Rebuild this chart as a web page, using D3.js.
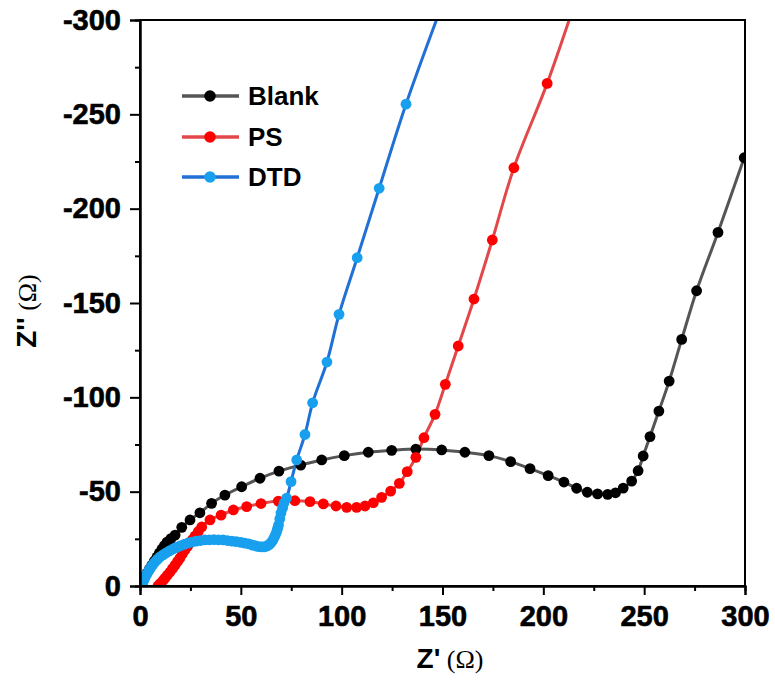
<!DOCTYPE html>
<html><head><meta charset="utf-8">
<script src="https://cdn.jsdelivr.net/npm/d3@7"></script>
<style>body{margin:0;background:#fff}svg{display:block}</style>
</head><body>
<script>
const seriesNames = ["Blank", "PS", "DTD"];
const lineColors = ["#555555", "#e2474a", "#2170d6"];
const markerColors = ["#000000", "#ff0000", "#18a0ee"];

const blankX = [0.5,1.0,1.5,2.5,3.5,4.7,5.9,7.1,8.4,9.6,10.9,12.1,13.4,15.3,17.4,20.7,24.8,29.7,35.5,42.1,50.4,59.5,68.9,79.7,90.1,101.3,113.2,124.8,136.8,149.6,161.1,173.0,183.8,193.4,202.4,210.2,216.5,221.8,226.9,231.9,235.8,239.6,243.8,247.0,249.5,252.9,257.3,262.4,268.6,276.0,286.6,299.6];
const blankY = [0,-1.6,-3.2,-5.0,-6.9,-9.0,-11.1,-13.2,-15.4,-17.5,-19.6,-21.4,-23.3,-25.1,-27.0,-31.1,-35.0,-38.8,-43.8,-48.2,-52.6,-57.1,-60.9,-64.1,-66.8,-69.1,-70.9,-71.9,-72.6,-72.1,-70.9,-69.1,-65.9,-62.2,-58.5,-55.1,-51.8,-49.7,-48.8,-48.6,-49.4,-51.9,-55.6,-61.1,-68.9,-79.2,-92.7,-108.6,-130.7,-156.5,-187.4,-227.0];

const psX = [8.9,9.6,10.4,11.4,12.4,13.6,14.9,16.1,17.4,18.6,19.8,21.0,22.3,23.5,24.8,26.0,27.3,28.9,30.6,34.7,40.2,46.3,52.9,60.0,68.6,76.8,84.3,90.9,97.2,102.5,107.4,111.6,115.7,119.8,124.3,128.6,132.5,136.8,140.8,146.3,151.4,157.8,165.6,174.7,185.4,201.9,219.0];
const psY = [0,-0.8,-1.6,-2.9,-4.2,-5.8,-7.4,-9.2,-11.1,-13.0,-14.8,-17.0,-19.1,-21.0,-22.8,-24.6,-26.5,-28.9,-31.3,-35.0,-37.6,-40.3,-42.1,-43.7,-45.0,-45.2,-44.7,-43.5,-42.4,-41.7,-41.7,-42.4,-44.1,-47.0,-50.3,-54.4,-60.6,-68.2,-78.6,-91.0,-106.9,-127.2,-152.1,-183.4,-221.7,-266.4,-320];

const dtdX = [0.7,1.1,1.5,2.0,2.5,3.2,4.0,4.7,5.5,6.4,7.4,8.6,9.9,11.4,12.9,14.6,16.4,18.1,19.8,21.8,23.8,25.8,27.8,30.0,32.2,34.4,36.7,38.9,41.2,43.4,45.6,47.8,50.1,52.0,54.0,55.8,57.5,59.0,60.5,61.8,63.0,64.0,64.9,65.7,66.4,67.1,67.7,68.2,68.7,69.3,69.9,70.7,71.4,72.7,74.9,77.7,81.8,85.6,92.7,98.7,107.7,118.6,131.9,154.0];
const dtdY = [0,-1.0,-2.1,-3.4,-4.8,-6.1,-7.4,-8.8,-10.1,-11.4,-12.7,-14.1,-15.4,-16.5,-17.5,-18.6,-19.6,-20.4,-21.2,-22.0,-22.8,-23.3,-23.8,-24.1,-24.4,-24.5,-24.6,-24.5,-24.4,-24.1,-23.8,-23.5,-23.1,-22.7,-22.3,-21.7,-21.2,-20.9,-20.7,-20.8,-21.2,-21.9,-22.8,-24.0,-25.4,-27.0,-28.6,-30.4,-32.3,-35.5,-38.7,-41.4,-44.0,-46.6,-55.3,-66.8,-80.3,-97.1,-118.7,-144.0,-174.0,-210.8,-255.4,-320];

const xTicks = [0,50,100,150,200,250,300];
const yTicks = [0,-50,-100,-150,-200,-250,-300];
const xMinor = [25,75,125,175,225,275];
const yMinor = [-25,-75,-125,-175,-225,-275];

const W = 775, H = 684;
const L = 140, R = 745, T = 20, B = 586;
const svg = d3.select("body").append("svg").attr("width", W).attr("height", H);
const x = d3.scaleLinear().domain([0, 300]).range([L, R]);
const y = d3.scaleLinear().domain([0, -300]).range([B, T]);

svg.append("clipPath").attr("id","clip").append("rect")
  .attr("x", L).attr("y", T).attr("width", R-L).attr("height", B-T);

const series = [
  {name: seriesNames[0], xs: blankX, ys: blankY},
  {name: seriesNames[1], xs: psX, ys: psY},
  {name: seriesNames[2], xs: dtdX, ys: dtdY}
];
const line = d3.line().x(d => x(d[0])).y(d => y(d[1])).curve(d3.curveCatmullRom.alpha(0.5));
const g = svg.append("g").attr("clip-path", "url(#clip)");
series.forEach((s, i) => {
  const pts = s.xs.map((v, j) => [v, s.ys[j]]);
  g.append("path").datum(pts).attr("d", line).attr("fill","none")
    .attr("stroke", lineColors[i]).attr("stroke-width", 3);
});
series.forEach((s, i) => {
  const pts = s.xs.map((v, j) => [v, s.ys[j]]);
  g.selectAll(null).data(pts).enter().append("circle")
    .attr("cx", d => x(d[0])).attr("cy", d => y(d[1])).attr("r", 5.4)
    .attr("fill", markerColors[i]);
});

// frame
svg.append("rect").attr("x", L).attr("y", T).attr("width", R-L).attr("height", B-T)
  .attr("fill","none").attr("stroke","#000").attr("stroke-width", 2);

// axes
const font = "'Liberation Sans', Arial, sans-serif";
const xAx = svg.append("g").attr("transform", `translate(0,${B})`)
  .call(d3.axisBottom(x).tickValues(xTicks).tickSize(9).tickPadding(10).tickFormat(d => String(d)));
const xAxMinor = svg.append("g").attr("transform", `translate(0,${B})`)
  .call(d3.axisBottom(x).tickValues(xMinor).tickSize(5).tickFormat(""));
const yAx = svg.append("g").attr("transform", `translate(${L},0)`)
  .call(d3.axisLeft(y).tickValues(yTicks).tickSize(10).tickPadding(9).tickFormat(d => String(d)));
const yAxMinor = svg.append("g").attr("transform", `translate(${L},0)`)
  .call(d3.axisLeft(y).tickValues(yMinor).tickSize(5).tickFormat(""));
[xAx, xAxMinor, yAx, yAxMinor].forEach(a => {
  a.select(".domain").attr("stroke","#000").attr("stroke-width", 2);
  a.selectAll(".tick line").attr("stroke","#000").attr("stroke-width", 2);
  a.selectAll("text").attr("font-family", font).attr("font-weight","bold")
    .attr("font-size", 29).attr("fill","#000")
    .attr("stroke","#000").attr("stroke-width", 0.6);
});

// axis titles
const xt = svg.append("text").attr("x", 450).attr("y", 668).attr("text-anchor","middle")
  .attr("fill","#000");
xt.append("tspan").attr("font-family", font).attr("font-weight","bold").attr("font-size", 28).text("Z'");
xt.append("tspan").attr("font-family","'Liberation Serif', 'Times New Roman', serif").attr("font-size", 26).text(" (Ω)");
const yt = svg.append("text").attr("transform","translate(36,311) rotate(-90)").attr("text-anchor","middle")
  .attr("fill","#000");
yt.append("tspan").attr("font-family", font).attr("font-weight","bold").attr("font-size", 28).text("Z''");
yt.append("tspan").attr("font-family","'Liberation Serif', 'Times New Roman', serif").attr("font-size", 26).text(" (Ω)");

// legend
const legY = [96, 137, 177];
const leg = svg.append("g");
seriesNames.forEach((n, i) => {
  leg.append("line").attr("x1", 182).attr("x2", 239).attr("y1", legY[i]).attr("y2", legY[i])
    .attr("stroke", lineColors[i]).attr("stroke-width", 3.5);
  leg.append("circle").attr("cx", 210).attr("cy", legY[i]).attr("r", 5.8).attr("fill", markerColors[i]);
  leg.append("text").attr("x", 248).attr("y", legY[i]).attr("dy", "0.36em")
    .attr("font-family", font).attr("font-weight","bold").attr("font-size", 26).attr("fill","#000").text(n);
});
</script>
</body></html>
